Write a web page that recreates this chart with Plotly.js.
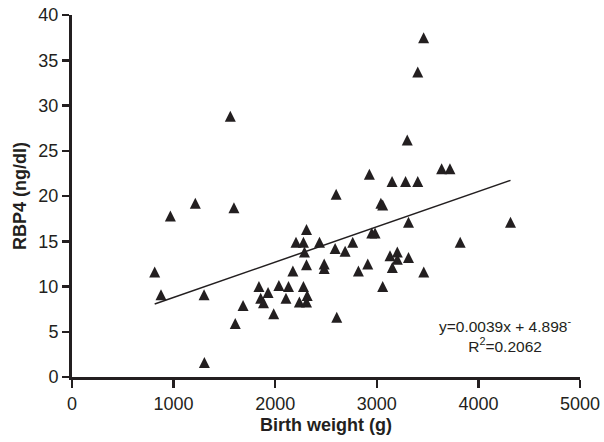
<!DOCTYPE html>
<html>
<head>
<meta charset="utf-8">
<script src="https://cdn.plot.ly/plotly-3.0.1.min.js"></script>
<style>html,body{margin:0;padding:0;background:#fff;}#chart{width:604px;height:442px;}</style>
</head>
<body>
<div id="chart"></div>
<script>
// Birth weight (g)
var birthWeight = [814, 876, 968, 1214, 1300, 1303, 1558, 1594, 1607, 1684,
  1840, 1857, 1885, 1930, 1985, 2036, 2106, 2131, 2174, 2205,
  2238, 2278, 2278, 2288, 2308, 2308, 2308, 2315, 2436, 2482,
  2482, 2590, 2600, 2606, 2688, 2763, 2819, 2911, 2927, 2950,
  2983, 3040, 3058, 3058, 3130, 3150, 3153, 3202, 3202, 3283,
  3300, 3312, 3312, 3403, 3403, 3461, 3462, 3638, 3720, 3821, 4316];
// RBP4 (ng/dl)
var rbp4 = [11.6, 9.1, 17.8, 19.2, 9.1, 1.6, 28.8, 18.7, 5.9, 7.9,
  10.0, 8.7, 8.2, 9.35, 7.0, 10.1, 8.7, 10.0, 11.7, 14.9,
  8.3, 14.9, 10.0, 13.8, 16.3, 12.4, 8.3, 9.0, 14.9, 12.5,
  12.0, 14.2, 20.2, 6.6, 13.9, 14.9, 11.7, 12.5, 22.4, 15.9,
  15.9, 19.2, 19.0, 10.0, 13.4, 21.6, 12.1, 13.8, 13.0, 21.6,
  26.2, 17.1, 13.2, 21.6, 33.7, 37.5, 11.6, 23.0, 23.0, 14.9, 17.1];
// regression line from the chart's equation
var slope = 0.0039;
var intercept = 4.898;
var fitX = [814, 4316];
var fitY = fitX.map(function (x) { return slope * x + intercept; });

var xTicks = [0, 1000, 2000, 3000, 4000, 5000];
var yTicks = [0, 5, 10, 15, 20, 25, 30, 35, 40];
var eqText = 'y=0.0039x + 4.898<sup>-</sup>';
var r2Text = 'R<sup>2</sup>=0.2062';

var ink = '#231f20';
var font = 'Liberation Sans, Arial, Helvetica, sans-serif';

var traces = [
  {
    x: fitX, y: fitY, type: 'scatter', mode: 'lines',
    line: {color: ink, width: 1.5}, hoverinfo: 'skip'
  },
  {
    x: birthWeight, y: rbp4, type: 'scatter', mode: 'markers',
    marker: {symbol: 'arrow-down', angle: 180, size: 11, standoff: 5.5, color: ink, line: {width: 0}}
  }
];

var axisCommon = {
  showline: true, linecolor: ink, linewidth: 3,
  ticks: 'outside', tickcolor: ink, tickwidth: 2.5,
  showgrid: false, zeroline: false,
  tickfont: {family: font, size: 18, color: ink}
};

var layout = {
  width: 604, height: 442,
  margin: {l: 72, r: 24, t: 15, b: 65},
  paper_bgcolor: '#fff', plot_bgcolor: '#fff',
  showlegend: false,
  xaxis: Object.assign({}, axisCommon, {
    range: [0, 5000], tickvals: xTicks, ticklen: 8,
    title: {text: '<b>Birth weight (g)</b>', font: {family: font, size: 18, color: ink}, standoff: 6}
  }),
  yaxis: Object.assign({}, axisCommon, {
    range: [0, 40], tickvals: yTicks, ticklen: 7,
    title: {text: '<b>RBP4 (ng/dl)</b>', font: {family: font, size: 18, color: ink}, standoff: 8}
  }),
  annotations: [
    {xref: 'paper', yref: 'paper', x: 0.852, y: 0.117, xanchor: 'center', yanchor: 'middle',
     text: eqText + '<br>' + r2Text, align: 'center', showarrow: false,
     font: {family: font, size: 15.5, color: ink}}
  ]
};

Plotly.newPlot('chart', traces, layout, {displayModeBar: false, staticPlot: true});
</script>
</body>
</html>
